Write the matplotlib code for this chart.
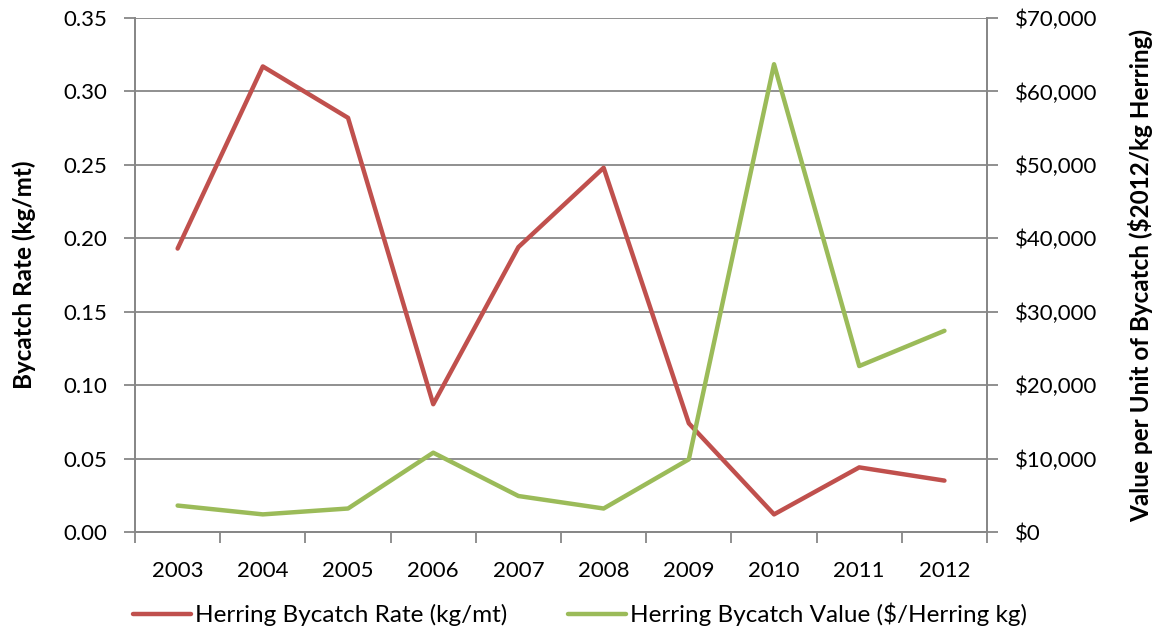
import matplotlib.pyplot as plt
import matplotlib.ticker as mticker

plt.rcParams['font.family'] = ['Lato', 'DejaVu Sans']

years = ['2003', '2004', '2005', '2006', '2007', '2008', '2009', '2010', '2011', '2012']
bycatch_rate = [0.193, 0.317, 0.282, 0.087, 0.194, 0.248, 0.074, 0.012, 0.044, 0.035]
bycatch_value = [3600, 2400, 3200, 10800, 4900, 3200, 9900, 63700, 22600, 27400]

red = '#C0504D'
green = '#9BBB59'
gray = '#878787'
fs = 16

fig = plt.figure(figsize=(11.6, 6.35), dpi=100)
ax = fig.add_axes([0.1164, 0.1622, 0.7345, 0.8095])
ax2 = ax.twinx()

x = list(range(len(years)))
l1, = ax.plot(x, bycatch_rate, color=red, lw=3.2, solid_capstyle='round',
              label='Herring Bycatch Rate (kg/mt)')
l2, = ax2.plot(x, bycatch_value, color=green, lw=3.2, solid_capstyle='round',
               label='Herring Bycatch Value ($/Herring kg)')

ax.set_xlim(-0.5, len(years) - 0.5)
ax.set_ylim(0, 0.35)
ax2.set_ylim(0, 70000)
ax.set_yticks([i * 0.05 for i in range(8)])
ax.yaxis.set_major_formatter(mticker.FormatStrFormatter('%.2f'))
ax2.set_yticks([i * 10000 for i in range(8)])
ax2.yaxis.set_major_formatter(mticker.FuncFormatter(lambda v, p: '${:,.0f}'.format(v)))

ax.set_xticks(x)
ax.set_xticklabels(years)
ax.set_xticks([i - 0.5 for i in range(len(years) + 1)], minor=True)
ax.tick_params(axis='x', which='major', length=0, pad=21, labelsize=fs)
ax.tick_params(axis='x', which='minor', length=8, color=gray, width=1.3)
ax.tick_params(axis='y', length=8, color=gray, width=1.3, labelsize=fs, pad=12)
ax2.tick_params(axis='y', length=8, color=gray, width=1.3, labelsize=fs, pad=12)

ax.grid(axis='y', color=gray, lw=1.3)
ax.set_axisbelow(True)
for a in (ax, ax2):
    a.spines['top'].set_visible(False)
    for s in ('left', 'right', 'bottom'):
        a.spines[s].set_color(gray)
        a.spines[s].set_linewidth(1.3)

ax.set_ylabel('Bycatch Rate (kg/mt)', fontsize=17.5, fontweight='bold', labelpad=20)
ax2.set_ylabel('Value per Unit of Bycatch ($2012/kg Herring)', fontsize=17.5,
               fontweight='bold', labelpad=22)

fig.legend(handles=[l1, l2], loc='center', bbox_to_anchor=(0.5, 0.032),
           ncol=2, frameon=False, fontsize=17.5, columnspacing=2.5,
           handlelength=2.4, handletextpad=0.15)

fig.savefig('out.png', dpi=100)
